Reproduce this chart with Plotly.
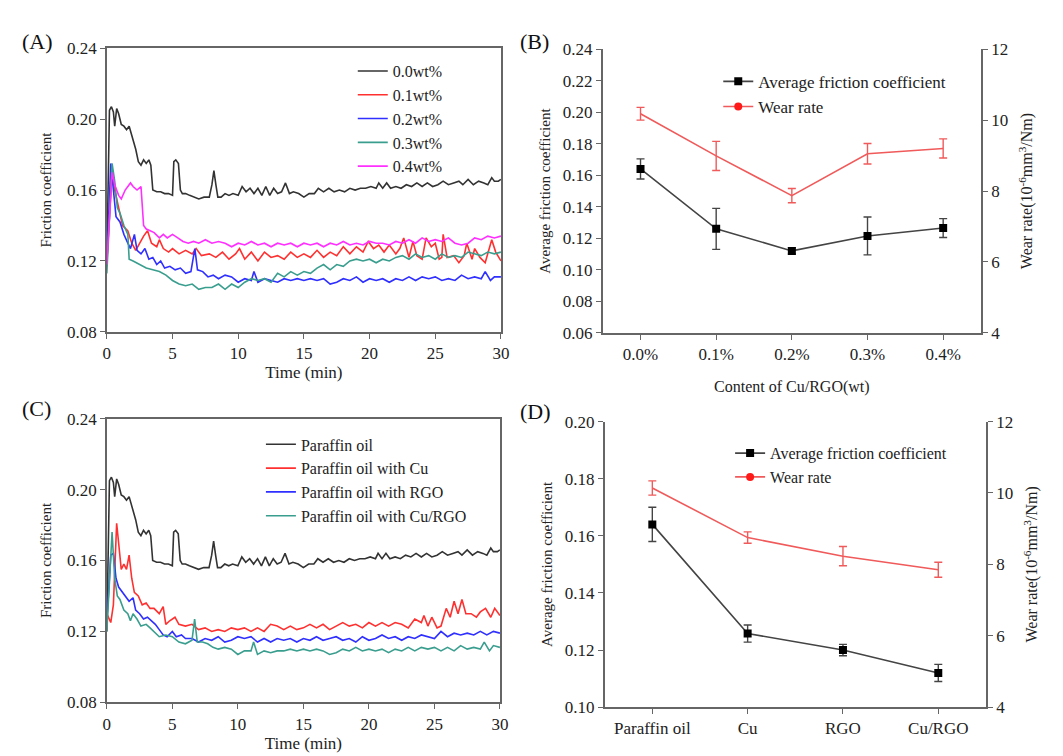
import plotly.graph_objects as go

# ---------------- data ----------------
# Panel A / C time series: (time min, friction coefficient)
paraffin = [(0, 0.120), (0.1, 0.170), (0.2, 0.205), (0.35, 0.207), (0.5, 0.204), (0.6, 0.196), (0.75, 0.206),
            (0.9, 0.203), (1.1, 0.197), (1.3, 0.196), (1.5, 0.194), (1.7, 0.196), (1.9, 0.191), (2.0, 0.188),
            (2.2, 0.183), (2.4, 0.176), (2.6, 0.174), (2.8, 0.177), (3.0, 0.175), (3.2, 0.177), (3.35, 0.174),
            (3.5, 0.160), (3.8, 0.159), (4.1, 0.159), (4.4, 0.158), (4.7, 0.158), (5.0, 0.157), (5.1, 0.176),
            (5.25, 0.177), (5.45, 0.175), (5.6, 0.160), (5.75, 0.158), (6.0, 0.158), (6.3, 0.157), (6.6, 0.156),
            (7.0, 0.155), (7.4, 0.156), (7.8, 0.156), (8.0, 0.163), (8.15, 0.171), (8.3, 0.163), (8.45, 0.156),
            (8.7, 0.156), (9.0, 0.158), (9.3, 0.157), (9.6, 0.158), (10.0, 0.157), (10.3, 0.162), (10.6, 0.159),
            (10.9, 0.161), (11.2, 0.158), (11.5, 0.161), (11.8, 0.157), (12.1, 0.162), (12.4, 0.157),
            (12.7, 0.161), (13.0, 0.158), (13.3, 0.159), (13.6, 0.164), (13.9, 0.158), (14.2, 0.159),
            (14.6, 0.158), (15.0, 0.156), (15.4, 0.158), (15.8, 0.158), (16.1, 0.161), (16.5, 0.159),
            (16.9, 0.161), (17.3, 0.159), (17.7, 0.160), (18.1, 0.159), (18.5, 0.161), (18.9, 0.160),
            (19.3, 0.161), (19.7, 0.161), (20.1, 0.162), (20.5, 0.161), (20.7, 0.164), (21.0, 0.161),
            (21.3, 0.164), (21.6, 0.161), (22.0, 0.162), (22.4, 0.161), (22.8, 0.163), (23.2, 0.162),
            (23.6, 0.164), (24.0, 0.162), (24.4, 0.164), (24.8, 0.162), (25.2, 0.163), (25.6, 0.165),
            (26.0, 0.163), (26.4, 0.164), (26.8, 0.165), (27.1, 0.163), (27.5, 0.166), (27.9, 0.163),
            (28.3, 0.165), (28.7, 0.164), (29.0, 0.163), (29.3, 0.167), (29.5, 0.165), (29.8, 0.165), (30.0, 0.166)]

wt01 = [(0, 0.120), (0.4, 0.170), (0.6, 0.160), (0.9, 0.150), (1.2, 0.140), (1.6, 0.137), (1.9, 0.130),
        (2.2, 0.126), (2.5, 0.130), (2.8, 0.134), (3.1, 0.137), (3.4, 0.130), (3.8, 0.128), (4.0, 0.132),
        (4.3, 0.127), (4.7, 0.125), (5.0, 0.127), (5.5, 0.124), (6.0, 0.126), (6.5, 0.124), (6.8, 0.127),
        (7.2, 0.123), (7.8, 0.124), (8.3, 0.122), (8.8, 0.125), (9.3, 0.121), (9.8, 0.124), (10.1, 0.127),
        (10.5, 0.121), (11.0, 0.125), (11.5, 0.120), (12.0, 0.125), (12.5, 0.122), (13.0, 0.123),
        (13.5, 0.121), (14.0, 0.125), (14.5, 0.122), (15.0, 0.124), (15.5, 0.122), (16.0, 0.126),
        (16.5, 0.122), (17.0, 0.125), (17.5, 0.123), (18.0, 0.128), (18.5, 0.124), (19.0, 0.128),
        (19.5, 0.125), (19.9, 0.131), (20.3, 0.127), (20.7, 0.129), (21.1, 0.125), (21.5, 0.129),
        (22.0, 0.124), (22.3, 0.127), (22.6, 0.133), (23.0, 0.122), (23.3, 0.131), (23.6, 0.123),
        (24.0, 0.121), (24.3, 0.133), (24.7, 0.128), (25.0, 0.130), (25.3, 0.121), (25.5, 0.122),
        (25.6, 0.135), (25.9, 0.122), (26.4, 0.123), (26.8, 0.119), (27.2, 0.123), (27.4, 0.130),
        (27.8, 0.121), (28.0, 0.127), (28.4, 0.122), (28.8, 0.119), (29.3, 0.132), (29.6, 0.125), (30.0, 0.120)]

wt02 = [(0, 0.118), (0.3, 0.175), (0.5, 0.160), (0.7, 0.145), (1.0, 0.142), (1.3, 0.135), (1.6, 0.130),
        (1.8, 0.127), (2.1, 0.135), (2.3, 0.126), (2.6, 0.124), (2.9, 0.127), (3.2, 0.121), (3.5, 0.122),
        (3.8, 0.118), (4.1, 0.120), (4.4, 0.116), (4.8, 0.117), (5.2, 0.115), (5.6, 0.116), (6.0, 0.113),
        (6.4, 0.114), (6.7, 0.127), (6.9, 0.115), (7.3, 0.114), (7.7, 0.111), (8.1, 0.112), (8.5, 0.110),
        (9.0, 0.112), (9.5, 0.111), (10.0, 0.108), (10.5, 0.110), (11.0, 0.109), (11.2, 0.114),
        (11.5, 0.108), (12.0, 0.110), (12.5, 0.109), (13.0, 0.108), (13.5, 0.110), (14.0, 0.109),
        (14.5, 0.110), (15.0, 0.109), (15.5, 0.110), (16.0, 0.109), (16.5, 0.110), (17.0, 0.107),
        (17.5, 0.108), (18.0, 0.110), (18.5, 0.109), (19.0, 0.111), (19.5, 0.108), (20.0, 0.110),
        (20.5, 0.109), (21.0, 0.110), (21.5, 0.108), (22.0, 0.110), (22.5, 0.109), (23.0, 0.111),
        (23.5, 0.109), (24.0, 0.111), (24.5, 0.110), (25.0, 0.111), (25.5, 0.109), (26.0, 0.110),
        (26.5, 0.109), (27.0, 0.112), (27.5, 0.110), (28.0, 0.111), (28.5, 0.110), (28.8, 0.114),
        (29.2, 0.109), (29.5, 0.111), (30.0, 0.111)]

wt03 = [(0, 0.113), (0.4, 0.175), (0.6, 0.165), (0.8, 0.150), (1.0, 0.147), (1.3, 0.140), (1.6, 0.135),
        (1.7, 0.121), (2.0, 0.120), (2.5, 0.118), (3.0, 0.116), (3.5, 0.115), (4.0, 0.114), (4.5, 0.112),
        (5.0, 0.109), (5.5, 0.107), (6.0, 0.106), (6.5, 0.107), (7.0, 0.104), (7.5, 0.105), (8.0, 0.105),
        (8.5, 0.107), (9.0, 0.104), (9.5, 0.107), (10.0, 0.105), (10.5, 0.108), (11.0, 0.110),
        (11.5, 0.109), (12.0, 0.110), (12.5, 0.108), (13.0, 0.113), (13.5, 0.111), (14.0, 0.114),
        (14.5, 0.112), (15.0, 0.114), (15.5, 0.113), (16.0, 0.116), (16.5, 0.118), (17.0, 0.115),
        (17.5, 0.118), (18.0, 0.117), (18.5, 0.120), (19.0, 0.121), (19.5, 0.120), (20.0, 0.121),
        (20.5, 0.119), (21.0, 0.121), (21.5, 0.120), (22.0, 0.122), (22.5, 0.123), (23.0, 0.121),
        (23.5, 0.124), (24.0, 0.122), (24.5, 0.123), (25.0, 0.121), (25.5, 0.124), (26.0, 0.122),
        (26.5, 0.123), (27.0, 0.122), (27.5, 0.125), (28.0, 0.124), (28.5, 0.123), (29.0, 0.125),
        (29.5, 0.124), (30.0, 0.125)]

wt04 = [(0, 0.118), (0.4, 0.170), (0.6, 0.163), (0.9, 0.157), (1.1, 0.155), (1.4, 0.160), (1.8, 0.164),
        (2.0, 0.162), (2.3, 0.160), (2.6, 0.162), (2.8, 0.140), (3.0, 0.138), (3.3, 0.137), (3.6, 0.136),
        (4.0, 0.133), (4.3, 0.135), (4.6, 0.133), (5.0, 0.135), (5.4, 0.133), (5.8, 0.131), (6.2, 0.130),
        (6.6, 0.131), (7.0, 0.130), (7.5, 0.132), (8.0, 0.130), (8.5, 0.131), (9.0, 0.130), (9.5, 0.128),
        (10.0, 0.130), (10.5, 0.129), (11.0, 0.131), (11.5, 0.129), (12.0, 0.130), (12.5, 0.128),
        (13.0, 0.130), (13.5, 0.129), (14.0, 0.130), (14.5, 0.128), (15.0, 0.130), (15.5, 0.129),
        (16.0, 0.130), (16.5, 0.128), (17.0, 0.130), (17.5, 0.129), (18.0, 0.131), (18.5, 0.129),
        (19.0, 0.130), (19.5, 0.129), (20.0, 0.131), (20.5, 0.130), (21.0, 0.130), (21.5, 0.129),
        (22.0, 0.131), (22.5, 0.130), (23.0, 0.132), (23.5, 0.130), (24.0, 0.133), (24.5, 0.131),
        (25.0, 0.132), (25.5, 0.131), (26.0, 0.133), (26.5, 0.130), (27.0, 0.129), (27.5, 0.130),
        (28.0, 0.133), (28.5, 0.132), (29.0, 0.134), (29.5, 0.133), (30.0, 0.134)]

with_cu = [(0, 0.130), (0.3, 0.125), (0.5, 0.135), (0.75, 0.181), (0.9, 0.170), (1.1, 0.155), (1.3, 0.158),
           (1.5, 0.155), (1.7, 0.163), (1.9, 0.150), (2.1, 0.142), (2.4, 0.140), (2.7, 0.135), (3.0, 0.136),
           (3.3, 0.133), (3.6, 0.133), (4.0, 0.130), (4.3, 0.134), (4.5, 0.124), (4.8, 0.126), (5.2, 0.128),
           (5.5, 0.124), (6.0, 0.123), (6.5, 0.124), (7.0, 0.121), (7.5, 0.122), (8.0, 0.120), (8.5, 0.121),
           (9.0, 0.120), (9.5, 0.122), (10.0, 0.121), (10.5, 0.122), (11.0, 0.120), (11.5, 0.122),
           (12.0, 0.120), (12.5, 0.124), (13.0, 0.123), (13.5, 0.121), (14.0, 0.123), (14.5, 0.121),
           (15.0, 0.122), (15.5, 0.124), (16.0, 0.122), (16.5, 0.124), (17.0, 0.121), (17.5, 0.123),
           (18.0, 0.125), (18.5, 0.123), (19.0, 0.124), (19.5, 0.122), (20.0, 0.125), (20.5, 0.123),
           (21.0, 0.125), (21.5, 0.123), (22.0, 0.125), (22.5, 0.124), (23.0, 0.122), (23.5, 0.127),
           (24.0, 0.125), (24.2, 0.129), (24.5, 0.123), (24.8, 0.128), (25.2, 0.122), (25.5, 0.123),
           (25.9, 0.133), (26.2, 0.128), (26.5, 0.137), (26.8, 0.130), (27.1, 0.138), (27.4, 0.130),
           (27.8, 0.130), (28.2, 0.128), (28.5, 0.131), (28.9, 0.133), (29.3, 0.128), (29.6, 0.133),
           (30.0, 0.129)]

with_rgo = [(0, 0.125), (0.3, 0.163), (0.5, 0.164), (0.7, 0.150), (0.9, 0.145), (1.1, 0.143), (1.4, 0.140),
            (1.7, 0.137), (2.0, 0.139), (2.2, 0.132), (2.5, 0.130), (2.8, 0.127), (3.1, 0.128), (3.4, 0.126),
            (3.7, 0.124), (4.0, 0.121), (4.3, 0.118), (4.6, 0.117), (5.0, 0.120), (5.3, 0.117), (5.7, 0.118),
            (6.0, 0.116), (6.5, 0.116), (7.0, 0.114), (7.5, 0.116), (8.0, 0.115), (8.5, 0.117), (9.0, 0.114),
            (9.5, 0.115), (10.0, 0.117), (10.5, 0.116), (11.0, 0.117), (11.5, 0.114), (12.0, 0.116),
            (12.5, 0.114), (13.0, 0.116), (13.5, 0.115), (14.0, 0.116), (14.5, 0.114), (15.0, 0.116),
            (15.5, 0.115), (16.0, 0.117), (16.5, 0.115), (17.0, 0.116), (17.5, 0.117), (18.0, 0.115),
            (18.5, 0.116), (19.0, 0.114), (19.5, 0.117), (20.0, 0.115), (20.5, 0.116), (21.0, 0.118),
            (21.5, 0.116), (22.0, 0.117), (22.5, 0.115), (23.0, 0.117), (23.5, 0.116), (24.0, 0.118),
            (24.5, 0.117), (25.0, 0.116), (25.5, 0.120), (26.0, 0.117), (26.5, 0.119), (27.0, 0.118),
            (27.5, 0.119), (28.0, 0.118), (28.5, 0.120), (29.0, 0.118), (29.5, 0.120), (30.0, 0.119)]

with_curgo = [(0, 0.120), (0.4, 0.176), (0.6, 0.150), (0.8, 0.140), (1.0, 0.138), (1.3, 0.132), (1.6, 0.130),
              (1.8, 0.126), (2.0, 0.130), (2.3, 0.127), (2.6, 0.123), (3.0, 0.124), (3.3, 0.122), (3.6, 0.120),
              (4.0, 0.117), (4.5, 0.118), (5.0, 0.117), (5.5, 0.114), (6.0, 0.113), (6.5, 0.115), (6.7, 0.127),
              (6.9, 0.114), (7.3, 0.114), (7.7, 0.113), (8.1, 0.111), (8.5, 0.110), (9.0, 0.111), (9.5, 0.110),
              (10.0, 0.107), (10.5, 0.109), (11.0, 0.109), (11.2, 0.114), (11.5, 0.107), (12.0, 0.109),
              (12.5, 0.108), (13.0, 0.109), (13.5, 0.109), (14.0, 0.110), (14.5, 0.109), (15.0, 0.110),
              (15.5, 0.109), (16.0, 0.110), (16.5, 0.109), (17.0, 0.107), (17.5, 0.108), (18.0, 0.110),
              (18.5, 0.109), (19.0, 0.111), (19.5, 0.109), (20.0, 0.110), (20.5, 0.109), (21.0, 0.110),
              (21.5, 0.108), (22.0, 0.110), (22.5, 0.109), (23.0, 0.111), (23.5, 0.109), (24.0, 0.111),
              (24.5, 0.110), (25.0, 0.111), (25.5, 0.109), (26.0, 0.111), (26.5, 0.109), (27.0, 0.112),
              (27.5, 0.110), (28.0, 0.111), (28.5, 0.110), (28.8, 0.114), (29.2, 0.109), (29.5, 0.112),
              (30.0, 0.111)]

# Panel B
content_cats = ["0.0%", "0.1%", "0.2%", "0.3%", "0.4%"]
b_friction = [0.164, 0.126, 0.112, 0.1215, 0.1265]
b_friction_err = [0.0064, 0.013, 0.002, 0.012, 0.006]
b_wear = [10.18, 8.99, 7.87, 9.05, 9.2]
b_wear_err = [0.18, 0.41, 0.2, 0.29, 0.27]

# Panel D
lub_cats = ["Paraffin oil", "Cu", "RGO", "Cu/RGO"]
d_friction = [0.164, 0.1258, 0.120, 0.112]
d_friction_err = [0.006, 0.003, 0.002, 0.003]
d_wear = [10.14, 8.75, 8.23, 7.85]
d_wear_err = [0.2, 0.16, 0.27, 0.21]

# ---------------- styles ----------------
FONT = "Liberation Serif"
AX = "#666666"
C_BLACK = "#333333"
C_RED = "#ff3030"
C_BLUE = "#2f2fff"
C_TEAL = "#3a9e8f"
C_MAG = "#ff30ff"
C_WEAR = "#f05a5a"

W, H = 1063, 756
def px_x(a, b):
    return [a / W, b / W]
def px_y(top, bottom):
    return [1 - bottom / H, 1 - top / H]

fig = go.Figure()

def add_ts(data, name, color, xa, ya, leg):
    fig.add_trace(go.Scatter(x=[p[0] for p in data], y=[p[1] for p in data], mode="lines",
                             name=name, line=dict(color=color, width=1.6),
                             xaxis=xa, yaxis=ya, legend=leg))

# Panel A
add_ts(paraffin, "0.0wt%", C_BLACK, "x", "y", "legend")
add_ts(wt01, "0.1wt%", C_RED, "x", "y", "legend")
add_ts(wt02, "0.2wt%", C_BLUE, "x", "y", "legend")
add_ts(wt03, "0.3wt%", C_TEAL, "x", "y", "legend")
add_ts(wt04, "0.4wt%", C_MAG, "x", "y", "legend")

# Panel C
add_ts(paraffin, "Paraffin oil", C_BLACK, "x3", "y4", "legend3")
add_ts(with_cu, "Paraffin oil with Cu", C_RED, "x3", "y4", "legend3")
add_ts(with_rgo, "Paraffin oil with RGO", C_BLUE, "x3", "y4", "legend3")
add_ts(with_curgo, "Paraffin oil with Cu/RGO", C_TEAL, "x3", "y4", "legend3")

def add_pair(cats, fr, fr_err, wr, wr_err, xa, ya_l, ya_r, leg):
    fig.add_trace(go.Scatter(x=cats, y=wr, mode="lines", showlegend=False,
                             line=dict(color=C_WEAR, width=1.6),
                             error_y=dict(type="data", array=wr_err, color=C_WEAR, thickness=1.4, width=4),
                             xaxis=xa, yaxis=ya_r))
    fig.add_trace(go.Scatter(x=cats, y=fr, mode="lines+markers", name="Average friction coefficient",
                             line=dict(color="#444444", width=1.6),
                             marker=dict(symbol="square", size=8, color="black"),
                             error_y=dict(type="data", array=fr_err, color="#444444", thickness=1.4, width=4),
                             xaxis=xa, yaxis=ya_l, legend=leg))
    fig.add_trace(go.Scatter(x=[None], y=[None], mode="lines+markers", name="Wear rate",
                             line=dict(color=C_WEAR, width=1.6),
                             marker=dict(symbol="circle", size=8, color="#ff1a1a"),
                             xaxis=xa, yaxis=ya_r, legend=leg))

add_pair(content_cats, b_friction, b_friction_err, b_wear, b_wear_err, "x2", "y2", "y3", "legend2")
add_pair(lub_cats, d_friction, d_friction_err, d_wear, d_wear_err, "x4", "y5", "y6", "legend4")

tickfont = dict(family=FONT, size=17, color="#222")
titlefont = dict(family=FONT, size=15, color="#222")
rtitlefont = dict(family=FONT, size=16, color="#222")
base = dict(showline=True, linecolor=AX, linewidth=1.6, ticks="outside", tickcolor=AX,
            ticklen=5, tickwidth=1.4, showgrid=False, zeroline=False, tickfont=tickfont)

def leg(x, y, size=16):
    return dict(x=x, y=y, xanchor="left", yanchor="top", bgcolor="rgba(0,0,0,0)",
                font=dict(family=FONT, size=size, color="#222"), tracegroupgap=0, itemwidth=30)

fig.update_layout(
    width=W, height=H, margin=dict(l=0, r=0, t=0, b=0),
    paper_bgcolor="white", plot_bgcolor="white", showlegend=True,
    font=dict(family=FONT, color="#222"),
    # Panel A
    xaxis=dict(base, domain=px_x(96, 495), range=[0, 30], tickvals=[0, 5, 10, 15, 20, 25, 30],
               mirror=True, anchor="y",
               title=dict(text="Time (min)", font=dict(family=FONT, size=17), standoff=4)),
    yaxis=dict(base, domain=px_y(32, 323), range=[0.08, 0.24], tickvals=[0.08, 0.12, 0.16, 0.20, 0.24],
               tickformat=".2f", mirror=True, anchor="x",
               title=dict(text="Friction coefficient", font=titlefont, standoff=12)),
    # Panel B
    xaxis2=dict(base, domain=px_x(598, 981), range=[-0.5, 4.5], type="category", anchor="y2",
                title=dict(text="Content of Cu/RGO(wt)", font=dict(family=FONT, size=16), standoff=18)),
    yaxis2=dict(base, domain=px_y(33, 324), range=[0.06, 0.24], dtick=0.02, tickformat=".2f", anchor="x2",
                title=dict(text="Average friction coefficient", font=titlefont, standoff=8)),
    yaxis3=dict(base, overlaying="y2", side="right", range=[4, 12], dtick=2, anchor="x2",
                title=dict(text="Wear rate(10<sup>-6</sup>mm<sup>3</sup>/Nm)", font=rtitlefont, standoff=14)),
    # Panel C
    xaxis3=dict(base, domain=px_x(96, 494), range=[0, 30], tickvals=[0, 5, 10, 15, 20, 25, 30],
                mirror=True, anchor="y4",
                title=dict(text="Time (min)", font=dict(family=FONT, size=17), standoff=4)),
    yaxis4=dict(base, domain=px_y(412, 703), range=[0.08, 0.24], tickvals=[0.08, 0.12, 0.16, 0.20, 0.24],
                tickformat=".2f", mirror=True, anchor="x3",
                title=dict(text="Friction coefficient", font=titlefont, standoff=12)),
    # Panel D
    xaxis4=dict(base, domain=px_x(600, 986), range=[-0.5, 3.5], type="category", anchor="y5"),
    yaxis5=dict(base, domain=px_y(415, 708), range=[0.10, 0.20], dtick=0.02, tickformat=".2f", anchor="x4",
                title=dict(text="Average friction coefficient", font=titlefont, standoff=8)),
    yaxis6=dict(base, overlaying="y5", side="right", range=[4, 12], dtick=2, anchor="x4",
                title=dict(text="Wear rate(10<sup>-6</sup>mm<sup>3</sup>/Nm)", font=rtitlefont, standoff=14)),
    legend=leg(345 / W, 1 - 38 / H),
    legend2=leg(715 / W, 1 - 48 / H, 17),
    legend3=leg(252 / W, 1 - 421 / H),
    legend4=leg(727 / W, 1 - 430 / H),
)

for txt, x, y in [("(A)", 8, 25), ("(B)", 512, 25), ("(C)", 8, 402), ("(D)", 512, 405)]:
    fig.add_annotation(text=txt, x=x / W, y=1 - y / H, xref="paper", yref="paper",
                       xanchor="left", yanchor="middle", showarrow=False,
                       font=dict(family=FONT, size=22, color="#111"))

fig.write_html("out.html")
